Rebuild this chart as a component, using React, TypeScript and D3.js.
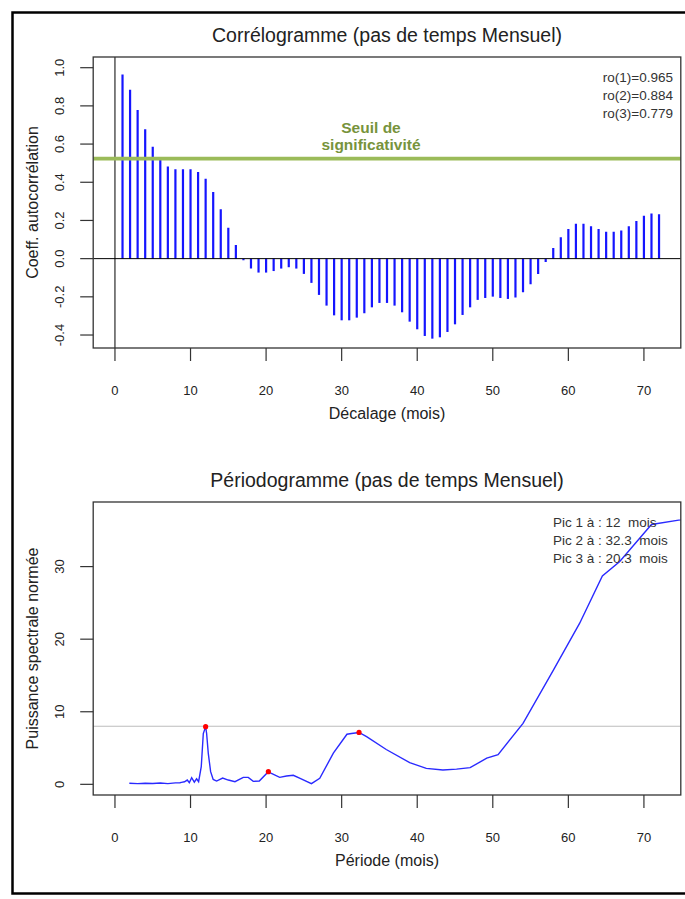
import React from "react";
import * as d3 from "d3";

// ---------- Data ----------
const acfValues: number[] = [
  0.965, 0.884, 0.779, 0.677, 0.586, 0.517, 0.482, 0.468, 0.468, 0.468, 0.454, 0.419,
  0.349, 0.258, 0.162, 0.072, -0.009, -0.052, -0.073, -0.073, -0.065, -0.052, -0.045, -0.052,
  -0.080, -0.127, -0.190, -0.246, -0.297, -0.323, -0.323, -0.309, -0.286, -0.255, -0.232, -0.232,
  -0.246, -0.281, -0.330, -0.370, -0.405, -0.419, -0.412, -0.384, -0.344, -0.295, -0.255, -0.216,
  -0.206, -0.199, -0.206, -0.211, -0.204, -0.176, -0.134, -0.080, -0.017, 0.056, 0.112, 0.155,
  0.183, 0.183, 0.169, 0.155, 0.141, 0.141, 0.148, 0.169, 0.197, 0.225, 0.237, 0.232,
];
const seuil = 0.524;
const roLabels = ["ro(1)=0.965", "ro(2)=0.884", "ro(3)=0.779"];

const periods: number[] = [
  1.9, 3, 4, 5, 6, 7, 8, 8.6, 8.8, 9.2, 9.57, 9.84, 10.15, 10.5, 10.8, 11.07, 11.42, 11.69,
  12.0, 12.13, 12.35, 12.66, 13.0, 13.45, 14.25, 15.0, 15.88, 16.98, 17.64, 18.3, 19.1,
  20.3, 20.7, 21.8, 22.7, 23.6, 24.5, 26.0, 27.1, 28.9, 30.7, 31.3, 32.3, 33.3, 35.9,
  39.0, 41.2, 43.4, 45.2, 47.0, 49.2, 50.7, 54.0, 58.0, 61.5, 64.5, 66.8, 71.0, 74.6, 77.0,
];
const powers: number[] = [
  0.15, 0.1, 0.15, 0.12, 0.18, 0.1, 0.2, 0.22, 0.27, 0.35, 0.59, 0.22, 0.91, 0.31, 0.77, 0.36,
  2.43, 7.0, 7.95, 7.0, 4.27, 1.74, 0.68, 0.45, 0.87, 0.59, 0.36, 0.96, 0.96, 0.41, 0.45,
  1.74, 1.51, 0.96, 1.14, 1.24, 0.82, 0.1, 0.82, 4.3, 6.9, 7.0, 7.15, 6.56, 4.8,
  2.98, 2.2, 1.97, 2.1, 2.3, 3.6, 4.1, 8.4, 15.7, 22.2, 28.7, 30.7, 35.8, 36.4, 36.7,
];
const peakPeriods = [12.0, 32.3, 20.3];
const peakPowers = [7.95, 7.15, 1.74];
const picLabels = ["Pic 1 à : 12  mois", "Pic 2 à : 32.3  mois", "Pic 3 à : 20.3  mois"];
const seuilPeriodo = 8.0;

const xTicks = [0, 10, 20, 30, 40, 50, 60, 70];
const acfTicks = [-0.4, -0.2, 0.0, 0.2, 0.4, 0.6, 0.8, 1.0];
const perTicks = [0, 10, 20, 30];

// ---------- Layout ----------
const FONT = "'Liberation Sans', Arial, sans-serif";
const L = 93.2, R = 680.8;
const T1 = 57, B1 = 348;
const T2 = 502, B2 = 795;
const TXT = "#222";

export default function App() {
  const x = d3.scaleLinear().domain([-2.88, 74.88]).range([L, R]);
  const y1 = d3.scaleLinear().domain([-0.468, 1.056]).range([B1, T1]);
  const y2 = d3.scaleLinear().domain([-1.47, 38.9]).range([B2, T2]);

  const lineGen = d3
    .line<number>()
    .x((_, i) => x(periods[i]))
    .y((d) => y2(d));

  const xAxis = (bottom: number, label: string) => (
    <g>
      {xTicks.map((t) => (
        <g key={t}>
          <line x1={x(t)} x2={x(t)} y1={bottom} y2={bottom + 13} stroke="#333" strokeWidth={1.2} />
          <text x={x(t)} y={bottom + 47} textAnchor="middle" fontSize={13} fill={TXT}>
            {t}
          </text>
        </g>
      ))}
      <text x={(L + R) / 2} y={bottom + 71} textAnchor="middle" fontSize={16} fill={TXT}>
        {label}
      </text>
    </g>
  );

  const yAxis = (
    ticks: number[],
    scale: d3.ScaleLinear<number, number>,
    fmt: (v: number) => string,
    label: string,
    top: number,
    bottom: number
  ) => (
    <g>
      {ticks.map((t) => (
        <g key={t}>
          <line x1={L - 13} x2={L} y1={scale(t)} y2={scale(t)} stroke="#333" strokeWidth={1.2} />
          <text
            transform={`translate(63.5,${scale(t)}) rotate(-90)`}
            textAnchor="middle"
            fontSize={13}
            fill={TXT}
          >
            {fmt(t)}
          </text>
        </g>
      ))}
      <text
        transform={`translate(37.5,${(top + bottom) / 2}) rotate(-90)`}
        textAnchor="middle"
        fontSize={16}
        fill={TXT}
      >
        {label}
      </text>
    </g>
  );

  return (
    <svg
      width={685}
      height={899}
      style={{ position: "absolute", left: 0, top: 0, background: "#fff" }}
      fontFamily={FONT}
    >
      <defs>
        <clipPath id="clip2">
          <rect x={L} y={T2} width={R - L} height={B2 - T2} />
        </clipPath>
        <clipPath id="clip1">
          <rect x={L} y={T1} width={R - L} height={B1 - T1} />
        </clipPath>
      </defs>
      <rect x={0} y={0} width={685} height={899} fill="#fff" />
      {/* Outer frame */}
      <rect x={12.5} y={12.5} width={700} height={881} fill="none" stroke="#000" strokeWidth={2.5} />

      {/* ---------- Corrélogramme ---------- */}
      <text x={(L + R) / 2} y={42} textAnchor="middle" fontSize={19.5} fill={TXT}>
        Corrélogramme (pas de temps Mensuel)
      </text>
      <g clipPath="url(#clip1)">
        {acfValues.map((v, i) => (
          <line
            key={i}
            x1={x(i + 1)}
            x2={x(i + 1)}
            y1={y1(0)}
            y2={y1(v)}
            stroke="#1515ff"
            strokeWidth={2.2}
          />
        ))}
        <line x1={L} x2={R} y1={y1(0)} y2={y1(0)} stroke="#000" strokeWidth={1} />
        <line x1={x(0)} x2={x(0)} y1={T1} y2={B1} stroke="#000" strokeWidth={1} />
        <line x1={L} x2={R} y1={y1(seuil)} y2={y1(seuil)} stroke="#9BBB59" strokeWidth={3.8} />
      </g>
      <text x={371} y={132.5} textAnchor="middle" fontSize={15.5} fontWeight="bold" fill="#77933C">
        Seuil de
      </text>
      <text x={371} y={149.5} textAnchor="middle" fontSize={15.5} fontWeight="bold" fill="#77933C">
        significativité
      </text>
      {roLabels.map((s, i) => (
        <text key={s} x={673} y={81.5 + i * 18} textAnchor="end" fontSize={13.5} fill="#333">
          {s}
        </text>
      ))}
      <rect x={L} y={T1} width={R - L} height={B1 - T1} fill="none" stroke="#333" strokeWidth={1.3} />
      {xAxis(B1, "Décalage (mois)")}
      {yAxis(acfTicks, y1, (v) => v.toFixed(1), "Coeff. autocorrélation", T1, B1)}

      {/* ---------- Périodogramme ---------- */}
      <text x={(L + R) / 2} y={487} textAnchor="middle" fontSize={19.5} fill={TXT}>
        Périodogramme (pas de temps Mensuel)
      </text>
      <g clipPath="url(#clip2)">
        <line x1={L} x2={R} y1={y2(seuilPeriodo)} y2={y2(seuilPeriodo)} stroke="#bdbdbd" strokeWidth={1.2} />
        <path d={lineGen(powers) || ""} fill="none" stroke="#2a2aff" strokeWidth={1.4} />
        {peakPeriods.map((p, i) => (
          <circle key={p} cx={x(p)} cy={y2(peakPowers[i])} r={2.6} fill="#ff0000" />
        ))}
      </g>
      {picLabels.map((s, i) => (
        <text
          key={s}
          x={553}
          y={526.5 + i * 18}
          fontSize={13.5}
          fill="#333"
          style={{ whiteSpace: "pre" }}
          xmlSpace="preserve"
        >
          {s}
        </text>
      ))}
      <rect x={L} y={T2} width={R - L} height={B2 - T2} fill="none" stroke="#333" strokeWidth={1.3} />
      {xAxis(B2, "Période (mois)")}
      {yAxis(perTicks, y2, (v) => String(v), "Puissance spectrale normée", T2, B2)}
    </svg>
  );
}
